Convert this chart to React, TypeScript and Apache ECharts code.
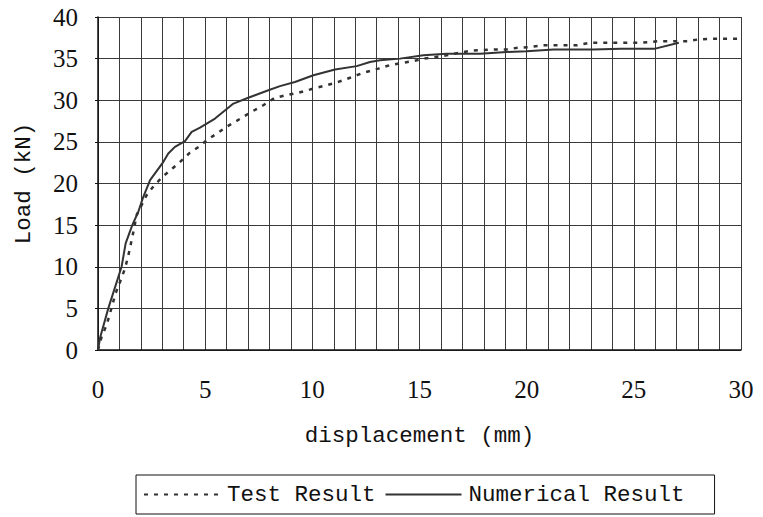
import React, { useEffect, useRef } from "react";
import * as echarts from "echarts";

const numDisp = [0, 0.1, 0.48, 1.1, 1.29, 1.6, 1.88, 2.1, 2.43, 3.05, 3.28, 3.59, 4.06, 4.37, 4.76, 5.46, 6.32, 7.01, 7.95, 8.49, 9.19, 10.05, 11.06, 12.07, 12.69, 13.16, 14.09, 15.18, 16.27, 17.83, 19.07, 20.0, 21.25, 23.1, 24.4, 26.0, 27.1];
const numLoad = [0, 1.5, 5, 10, 12.8, 15, 16.6, 18.3, 20.4, 22.6, 23.6, 24.4, 25.1, 26.2, 26.7, 27.8, 29.6, 30.3, 31.2, 31.7, 32.2, 33.0, 33.7, 34.1, 34.6, 34.8, 35.0, 35.4, 35.6, 35.6, 35.8, 35.9, 36.1, 36.1, 36.2, 36.2, 36.9];

const testDisp = [0, 0.17, 0.4, 0.56, 0.82, 1.03, 1.26, 1.41, 1.57, 1.7, 1.8, 2.27, 2.63, 3.05, 3.47, 3.83, 4.29, 4.76, 5.07, 5.54, 5.93, 6.39, 6.78, 7.09, 7.71, 8.26, 8.76, 9.35, 10.05, 10.67, 11.21, 11.76, 12.38, 13.08, 13.6, 14.22, 14.71, 15.21, 15.77, 16.27, 16.85, 17.4, 18.5, 19.07, 19.57, 20.19, 20.73, 22.34, 22.91, 25.3, 26.2, 27.45, 28.0, 28.64, 30];
const testLoad = [0, 1.6, 3.0, 4.4, 6.8, 8.2, 9.8, 11.3, 13.2, 14.8, 16.2, 18.6, 19.8, 20.9, 21.8, 22.6, 23.7, 24.5, 25.2, 26.0, 26.7, 27.4, 28.0, 28.5, 29.4, 30.3, 30.6, 30.9, 31.4, 31.8, 32.2, 32.7, 33.3, 33.8, 34.2, 34.5, 34.7, 35.0, 35.2, 35.4, 35.7, 35.95, 36.1, 36.1, 36.3, 36.4, 36.6, 36.6, 36.9, 36.9, 37.1, 37.1, 37.3, 37.4, 37.4];

const seriesNames = ["Test Result", "Numerical Result"];
const xTitle = "displacement (mm)";
const yTitle = "Load (kN)";

const MONO = "Liberation Mono";
const SERIF = "Liberation Serif";

export default function App() {
  const ref = useRef<HTMLDivElement>(null);
  useEffect(() => {
    if (!ref.current) return;
    const chart = echarts.init(ref.current, undefined, { renderer: "svg" });
    const testData = testDisp.map((d, i) => [d, testLoad[i]]);
    const numData = numDisp.map((d, i) => [d, numLoad[i]]);
    chart.setOption({
      animation: false,
      backgroundColor: "#ffffff",
      grid: { left: 98, right: 22, top: 17, bottom: 167, containLabel: false },
      xAxis: {
        type: "value",
        min: 0,
        max: 30,
        interval: 1,
        name: xTitle,
        nameLocation: "middle",
        nameGap: 74,
        nameTextStyle: { fontFamily: MONO, fontSize: 22.5, color: "#111" },
        axisLine: { show: true, onZero: false, lineStyle: { color: "#111", width: 1.5 } },
        axisTick: { show: false },
        axisLabel: {
          margin: 27,
          fontFamily: SERIF,
          fontSize: 25,
          color: "#111",
          formatter: (v: number) => (v % 5 === 0 ? String(v) : ""),
        },
        splitLine: { show: true, lineStyle: { color: "#3a3a3a", width: 1 } },
      },
      yAxis: {
        type: "value",
        min: 0,
        max: 40,
        interval: 5,
        name: yTitle,
        nameLocation: "middle",
        nameGap: 63,
        nameRotate: 90,
        nameTextStyle: { fontFamily: MONO, fontSize: 22.5, color: "#111" },
        axisLine: { show: true, lineStyle: { color: "#111", width: 1.5 } },
        axisTick: { show: true, length: 3, lineStyle: { color: "#111" } },
        axisLabel: { margin: 20, fontFamily: SERIF, fontSize: 25, color: "#111" },
        splitLine: { show: true, lineStyle: { color: "#3a3a3a", width: 1 } },
      },
      legend: {
        left: 136,
        top: 475,
        orient: "horizontal",
        data: seriesNames,
        itemWidth: 76,
        itemHeight: 14,
        itemGap: 9,
        padding: [8, 30, 8, 7],
        borderColor: "#111",
        borderWidth: 1,
        borderRadius: 0,
        itemStyle: { opacity: 0 },
        textStyle: { fontFamily: MONO, fontSize: 22.5, color: "#111", padding: [0, 0, 0, 2] },
      },
      series: [
        {
          name: seriesNames[0],
          type: "line",
          data: testData,
          showSymbol: false,
          symbol: "none",
          lineStyle: { color: "#333", width: 2.5, type: [4, 6] },
          itemStyle: { color: "#333" },
          z: 3,
        },
        {
          name: seriesNames[1],
          type: "line",
          data: numData,
          showSymbol: false,
          symbol: "none",
          lineStyle: { color: "#333", width: 2, type: "solid" },
          itemStyle: { color: "#333" },
          z: 4,
        },
      ],
    });
    return () => chart.dispose();
  }, []);
  return <div ref={ref} style={{ width: 763, height: 517, position: "absolute", left: 0, top: 0 }} />;
}
